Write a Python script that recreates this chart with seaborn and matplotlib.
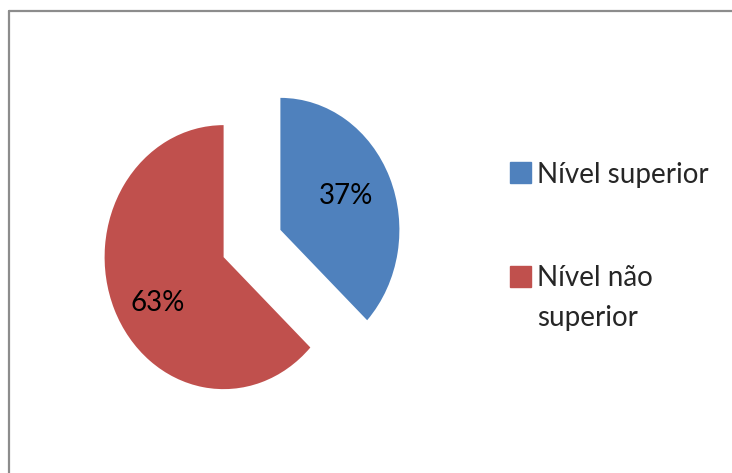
import matplotlib
matplotlib.use('Agg')
import matplotlib.pyplot as plt
import seaborn as sns

categorias = ['Nível superior', 'Nível não\nsuperior']
percentuais = [37, 63]
cores = ['#4F81BD', '#C0504D']

sns.set_style('white')
plt.rcParams['font.family'] = ['Lato', 'DejaVu Sans']

W, H = 732, 473
fig = plt.figure(figsize=(W / 100, H / 100), dpi=100)

# moldura cinza (só esquerda e topo aparecem)
cinza = '#8c8c8c'
fig.add_artist(plt.Line2D([8.5 / W, 8.5 / W], [0, 1 - 11.5 / H], color=cinza, lw=1.6, transform=fig.transFigure))
fig.add_artist(plt.Line2D([8.5 / W, 1], [1 - 11.5 / H, 1 - 11.5 / H], color=cinza, lw=1.6, transform=fig.transFigure))

# o gráfico original é um pouco achatado na horizontal
rx, ry = 119, 132
cx, cy = 252, 243.5
ax = fig.add_axes([(cx - 1.5 * rx) / W, (H - cy - 1.5 * ry) / H, 3 * rx / W, 3 * ry / H])

wedges, texts, autotexts = ax.pie(
    percentuais, colors=cores, startangle=90, counterclock=False,
    explode=[0.26, 0.26], autopct='%1.0f%%', pctdistance=0.6,
    textprops={'fontsize': 20, 'color': 'black'},
    wedgeprops={'linewidth': 0})
autotexts[0].set_y(autotexts[0].get_position()[1] + 0.02)
autotexts[1].set_y(autotexts[1].get_position()[1] - 0.11)
ax.set_xlim(-1.5, 1.5)
ax.set_ylim(-1.5, 1.5)
ax.set_aspect('auto')
ax.axis('off')

# legenda desenhada à mão para imitar o espaçamento do original
leg_x = 510 / W
tam = 21
passo = 39  # px entre linhas
topos = [162, 266]
for cat, cor, topo in zip(categorias, cores, topos):
    fig.add_artist(plt.Rectangle((leg_x, 1 - (topo + tam) / H), tam / W, tam / H,
                                 color=cor, transform=fig.transFigure))
    ultima = topo + tam + passo * cat.count('\n')
    fig.text(537 / W, 1 - ultima / H, cat, fontsize=20, va='baseline',
             ha='left', linespacing=1.68)

plt.savefig('out.png', dpi=100)
